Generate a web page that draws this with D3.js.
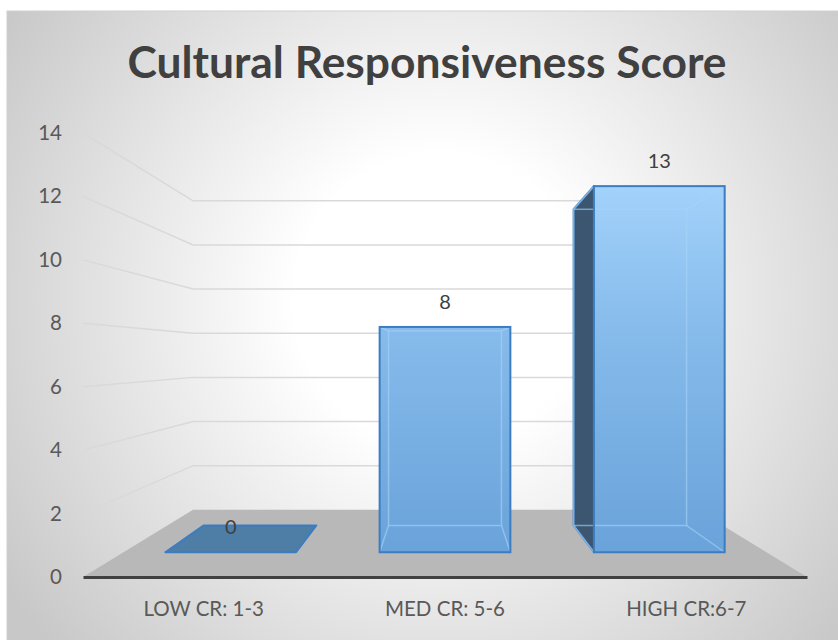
<!DOCTYPE html>
<html>
<head>
<meta charset="utf-8">
<script src="https://cdn.jsdelivr.net/npm/d3@7"></script>
<style>
  html, body { margin: 0; padding: 0; background: #ffffff; }
  svg { display: block; }
</style>
</head>
<body>
<svg id="chart" width="838" height="640"></svg>
<script>
// ---- data ----
const title = "Cultural Responsiveness Score";
const categories = ["LOW CR: 1-3", "MED CR: 5-6", "HIGH CR:6-7"];
const values = [0, 8, 13];
const yTicks = [0, 2, 4, 6, 8, 10, 12, 14];

// ---- layout ----
const svg = d3.select("#chart");
const V = [445, 356];          // vanishing point
const sFront = 0.888, sBack = 0.767, sWall = 0.696;
const proj = (X, Y, s) => [V[0] + (X - V[0]) * s, V[1] + (Y - V[1]) * s];

const x = d3.scaleBand().domain(categories).range([83, 807]).paddingInner(0.39).paddingOuter(0.195);
const y = d3.scaleLinear().domain([0, 14]).range([577, 133]);

const defs = svg.append("defs");
const bg = defs.append("radialGradient").attr("id", "bg")
  .attr("gradientUnits", "userSpaceOnUse").attr("cx", 440).attr("cy", 300).attr("r", 520);
bg.append("stop").attr("offset", 0).attr("stop-color", "#ffffff");
bg.append("stop").attr("offset", 0.28).attr("stop-color", "#ffffff");
bg.append("stop").attr("offset", 1).attr("stop-color", "#c8c8c8");

const bar = defs.append("linearGradient").attr("id", "barg")
  .attr("gradientUnits", "userSpaceOnUse").attr("x1", 0).attr("x2", 0).attr("y1", 185).attr("y2", 551);
bar.append("stop").attr("offset", 0).attr("stop-color", "#a3d2fb");
bar.append("stop").attr("offset", 0.4).attr("stop-color", "#86bbeb");
bar.append("stop").attr("offset", 1).attr("stop-color", "#6aa3da");

// panel
svg.append("rect").attr("x", 7).attr("y", 11).attr("width", 840).attr("height", 640)
  .attr("fill", "url(#bg)").attr("stroke", "#d0d0d0").attr("stroke-width", 1);

// title
svg.append("text").attr("x", 427).attr("y", 78).attr("text-anchor", "middle")
  .attr("font-family", "Lato, 'Open Sans', sans-serif").attr("font-weight", "bold")
  .attr("font-size", 43).attr("fill", "#404040")
  .attr("textLength", 599).attr("lengthAdjust", "spacingAndGlyphs")
  .text(title);

const X0 = x.range()[0], X1 = x.range()[1];
const line = d3.line();

// floor
svg.append("path")
  .attr("d", line([proj(X0, y(0), 1), proj(X0, y(0), sWall), proj(X1, y(0), sWall), proj(X1, y(0), 1)]) + "Z")
  .attr("fill", "#b8b8b8");

// gridlines: left wall + back wall
const grid = svg.append("g").attr("fill", "none").attr("stroke", "#d9d9d9").attr("stroke-width", 1.5);
yTicks.filter(t => t > 0).forEach(t => {
  grid.append("path").attr("d", line([
    proj(X0, y(t), 1), proj(X0, y(t), sWall), proj(X1, y(t), sWall)
  ]));
});

// bars
const barsG = svg.append("g");
categories.forEach((c, i) => {
  const v = values[i];
  const a = x(c), b = x(c) + x.bandwidth();
  const top = y(v), bot = y(0);
  const g = barsG.append("g");
  const center = (a + b) / 2;
  if (v === 0) {
    g.append("path")
      .attr("d", line([proj(a, bot, sFront), proj(b, bot, sFront), proj(b, bot, sBack), proj(a, bot, sBack)]) + "Z")
      .attr("fill", "#4e7da5").attr("stroke", "#3b7dc0").attr("stroke-width", 2).attr("stroke-linejoin", "round");
  } else {
    if (center > V[0] + 20) {
      g.append("path")
        .attr("d", line([proj(a, top, sFront), proj(a, top, sBack), proj(a, bot, sBack), proj(a, bot, sFront)]) + "Z")
        .attr("fill", "#3c5671").attr("stroke", "#3b7dc0").attr("stroke-width", 2).attr("stroke-linejoin", "round");
    } else if (center < V[0] - 20) {
      g.append("path")
        .attr("d", line([proj(b, top, sFront), proj(b, top, sBack), proj(b, bot, sBack), proj(b, bot, sFront)]) + "Z")
        .attr("fill", "#3c5671").attr("stroke", "#3b7dc0").attr("stroke-width", 2).attr("stroke-linejoin", "round");
    }
    const f0 = proj(a, top, sFront), f1 = proj(b, bot, sFront);
    g.append("rect").attr("x", f0[0]).attr("y", f0[1]).attr("width", f1[0] - f0[0]).attr("height", f1[1] - f0[1])
      .attr("fill", "url(#barg)");
    const inner = g.append("g").attr("fill", "none").attr("stroke", "#a6d3f8").attr("stroke-opacity", 0.6).attr("stroke-width", 1.5);
    const b0 = proj(a, top, sBack), b1 = proj(b, bot, sBack);
    inner.append("rect").attr("x", b0[0]).attr("y", b0[1]).attr("width", b1[0] - b0[0]).attr("height", b1[1] - b0[1]);
    [[a, top], [b, top], [a, bot], [b, bot]].forEach(([X, Y]) => {
      inner.append("path").attr("d", line([proj(X, Y, sFront), proj(X, Y, sBack)]));
    });
    g.append("rect").attr("x", f0[0]).attr("y", f0[1]).attr("width", f1[0] - f0[0]).attr("height", f1[1] - f0[1])
      .attr("fill", "none").attr("stroke", "#3b7dc0").attr("stroke-width", 2);
  }
  const lp = proj(center, top, sFront);
  svg.append("text").attr("x", lp[0]).attr("y", lp[1] - 18).attr("text-anchor", "middle")
    .attr("font-family", "Lato, 'Open Sans', sans-serif").attr("font-size", 20).attr("fill", "#404040")
    .text(v);
});

// y axis (front plane)
const yAxis = svg.append("g").attr("transform", "translate(70,0)")
  .call(d3.axisLeft(y).tickValues(yTicks).tickSize(0).tickPadding(8).tickFormat(d3.format("d")));
yAxis.select(".domain").remove();
yAxis.selectAll("text").attr("font-family", "Lato, 'Open Sans', sans-serif").attr("font-size", 20.5).attr("fill", "#595959");

// x axis
const xAxis = svg.append("g").attr("transform", `translate(0,${y(0)})`)
  .call(d3.axisBottom(x).tickSize(0).tickSizeOuter(0).tickPadding(24));
xAxis.select(".domain").attr("stroke", "#404040").attr("stroke-width", 3);
xAxis.selectAll("text").attr("font-family", "Lato, 'Open Sans', sans-serif").attr("font-size", 20.5).attr("fill", "#595959");
</script>
</body>
</html>
